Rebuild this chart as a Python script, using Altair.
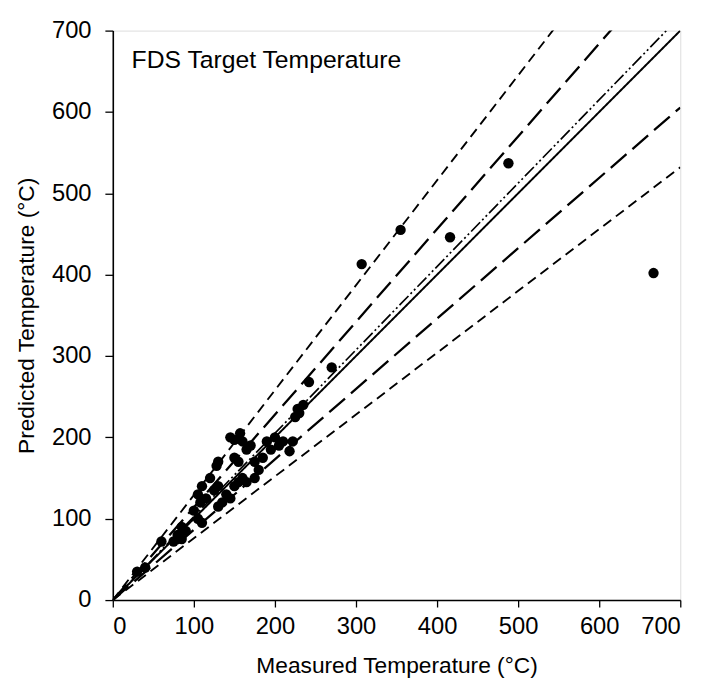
import altair as alt
import pandas as pd

measured = [667, 488, 416, 355, 307, 270, 242,
            145, 157, 150, 130, 128, 105, 110, 108, 105, 110,
            85, 90, 80, 85, 75, 60, 120, 125, 130, 135, 130,
            140, 145, 150, 155, 150, 155, 160, 165, 170, 175, 180,
            175, 185, 190, 195, 200, 205, 210, 218, 222, 225, 230,
            235, 228, 165, 160, 100, 115, 40, 30]
predicted = [402, 537, 446, 455, 413, 286, 268,
             200, 205, 197, 170, 165, 130, 140, 120, 100, 95,
             75, 85, 80, 90, 72, 72, 150, 135, 140, 120, 115,
             130, 125, 140, 145, 175, 170, 195, 185, 190, 150, 160,
             170, 175, 195, 185, 200, 190, 195, 183, 195, 225, 230,
             240, 235, 145, 150, 110, 125, 40, 35]

line_names = ["upper30", "upper15", "fit", "equal", "lower15", "lower30"]
line_slopes = [1.29, 1.14, 1.025, 1.0, 0.865, 0.76]
line_dashes = [[10, 6], [21, 8], [13, 3, 2, 3, 2, 3], [1, 0], [21, 8], [10, 6]]
line_widths = [1.9, 2.3, 1.7, 2.0, 2.3, 1.9]

pts = pd.DataFrame({"m": measured, "p": predicted})

xs = alt.Scale(domain=[0, 700], nice=False)
ys = alt.Scale(domain=[0, 700], nice=False)

FONT = "Liberation Sans"
xaxis = alt.Axis(title="Measured Temperature (°C)", values=list(range(0, 701, 100)),
                 grid=False, tickSize=7, tickColor="black", domainColor="black",
                 labelFont=FONT, labelFontSize=24, labelColor="black",
                 titleFont=FONT, titleFontSize=23, titleFontWeight="normal",
                 titleColor="black", titlePadding=16, labelPadding=8, domainWidth=1.6, tickWidth=1.3)
yaxis = alt.Axis(title="Predicted Temperature (°C)", values=list(range(0, 701, 100)),
                 grid=False, tickSize=8, tickColor="black", domainColor="black",
                 labelFont=FONT, labelFontSize=24, labelColor="black",
                 titleFont=FONT, titleFontSize=23, titleFontWeight="normal",
                 titleColor="black", titlePadding=13, labelPadding=14, domainWidth=1.6, tickWidth=1.3)

layers = []
for name, s, d, w in zip(line_names, line_slopes, line_dashes, line_widths):
    df = pd.DataFrame({"m": [0, 700], "p": [0, 700 * s], "name": [name, name]})
    layers.append(
        alt.Chart(df).mark_line(color="black", strokeDash=d, strokeWidth=w, clip=True).encode(
            x=alt.X("m:Q", scale=xs, axis=xaxis),
            y=alt.Y("p:Q", scale=ys, axis=yaxis),
        )
    )

points = alt.Chart(pts).mark_circle(color="black", opacity=1, size=110).encode(
    x=alt.X("m:Q", scale=xs, axis=xaxis),
    y=alt.Y("p:Q", scale=ys, axis=yaxis),
)

label = alt.Chart(pd.DataFrame({"t": ["FDS Target Temperature"]})).mark_text(
    align="left", baseline="middle", font=FONT, fontSize=25, color="black"
).encode(x=alt.value(19), y=alt.value(30), text="t:N")

chart = alt.layer(*layers, points, label).properties(
    width=574, height=576,
    padding={"left": 106, "top": 19, "right": 25, "bottom": 80},
    autosize=alt.AutoSizeParams(type="none"),
).configure_view(stroke="black", strokeWidth=1.6).configure(background="white")

chart.save("out.html", embed_options={"renderer": "svg", "actions": False})
